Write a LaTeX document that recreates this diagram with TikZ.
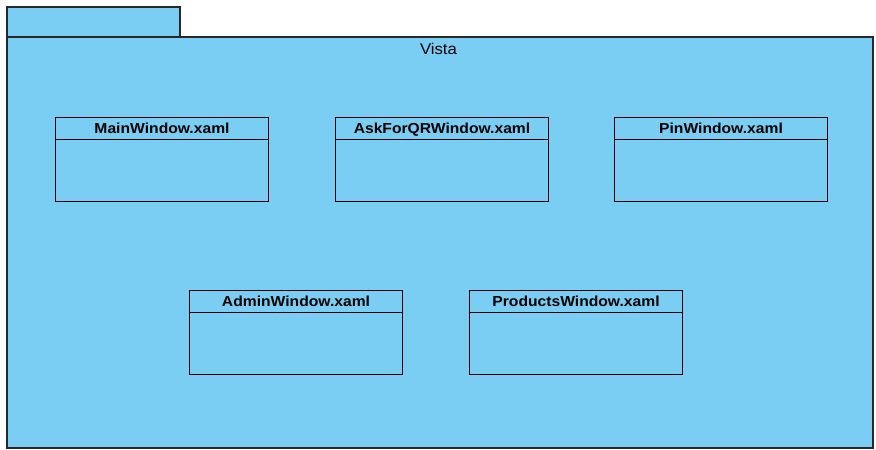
\documentclass[tikz,border=0pt]{standalone}
\usepackage{fontspec}
\setmainfont{Liberation Sans}
\newfontfamily\wideb[FakeStretch=1.08]{Liberation Sans}
\definecolor{pkgblue}{RGB}{122,206,244}
\definecolor{pkgline}{RGB}{40,40,40}
\begin{document}
\begin{tikzpicture}[x=1pt,y=-1pt,
  pkg/.style={draw=pkgline,fill=pkgblue,line width=1.2pt},
  cls/.style={draw=black,line width=1pt,minimum width=213pt,minimum height=84pt,inner sep=0pt},
  clsname/.style={font=\wideb\bfseries\fontsize{14.5}{16}\selectfont,anchor=base,inner sep=0pt}]
\useasboundingbox (0,0) rectangle (876,450);
\fill[white] (0,0) rectangle (876,450);
\draw[pkg] (7,7) rectangle (180,37);
\draw[pkg] (7,37) rectangle (873,448);
\node[font=\wideb\fontsize{15.5}{17}\selectfont,anchor=base,inner sep=0pt] (vista) at (438.5,54.5) {Vista};
\foreach \nm/\x/\y/\t in {main/55/117/MainWindow.xaml, ask/335/117/AskForQRWindow.xaml, pin/614/117/PinWindow.xaml, admin/189/290/AdminWindow.xaml, prod/469/290/ProductsWindow.xaml}{
  \node[cls,anchor=north west] (\nm) at (\x,\y) {};
  \draw[line width=1pt] ([yshift=-22pt]\nm.north west) -- ([yshift=-22pt]\nm.north east);
  \node[clsname] (\nm-t) at ([yshift=-16.5pt]\nm.north) {\t};
}
\end{tikzpicture}
\end{document}
